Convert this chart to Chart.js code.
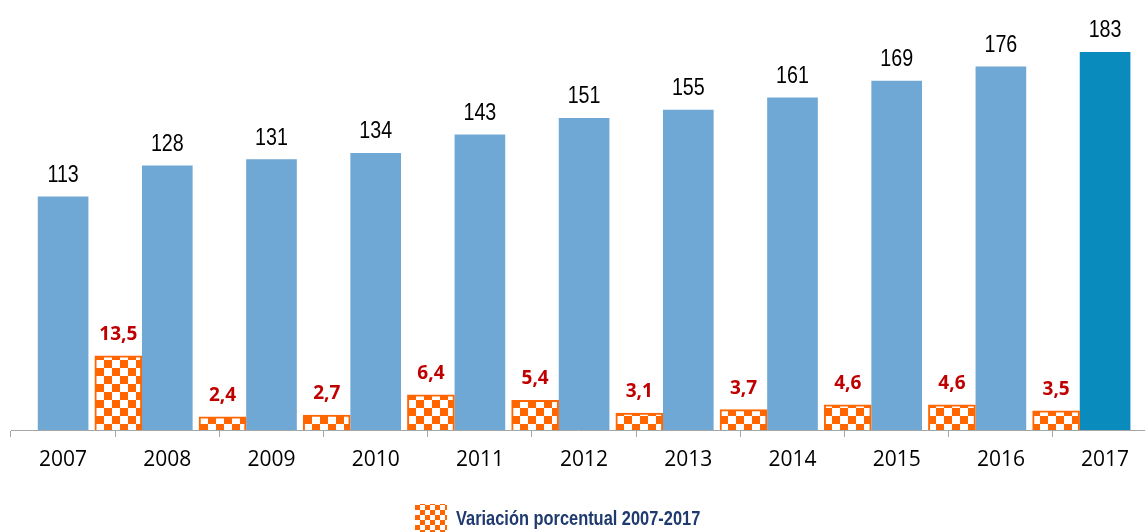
<!DOCTYPE html>
<html lang="es">
<head>
<meta charset="utf-8">
<title>Variación porcentual 2007-2017</title>
<script src="https://cdn.jsdelivr.net/npm/chart.js@4.4.1/dist/chart.umd.min.js"></script>
<style>
  body { margin: 0; background: #fff; }
  #contenedor { width: 1145px; height: 532px; position: relative; }
</style>
</head>
<body>
<div id="contenedor"><canvas id="myChart"></canvas></div>
<script>
const anios = ["2007", "2008", "2009", "2010", "2011", "2012", "2013", "2014", "2015", "2016", "2017"];
const valores = [113, 128, 131, 134, 143, 151, 155, 161, 169, 176, 183];
const variacion = [null, 13.5, 2.4, 2.7, 6.4, 5.4, 3.1, 3.7, 4.6, 4.6, 3.5];
const leyenda = "Variación porcentual 2007-2017";

const azul = "#6fa8d4";
const azulUltimo = "#0a8bbd";
const naranja = "#ff6600";

function crearPatron(tam) {
  const c = document.createElement("canvas");
  c.width = tam * 2;
  c.height = tam * 2;
  const ctx = c.getContext("2d");
  ctx.fillStyle = "#ffffff";
  ctx.fillRect(0, 0, tam * 2, tam * 2);
  ctx.fillStyle = naranja;
  ctx.fillRect(0, 0, tam, tam);
  ctx.fillRect(tam, tam, tam, tam);
  return ctx.createPattern(c, "repeat");
}

const patron = crearPatron(8);
const patronLeyenda = crearPatron(5);

// los puntos naranjos van entre un año y el anterior
const datosAzules = valores.map((v, i) => ({ x: i, y: v }));
const datosNaranjos = [];
variacion.forEach((v, i) => {
  if (v !== null) datosNaranjos.push({ x: i - 0.47, y: v });
});

function formatear(v) {
  return String(v).replace(".", ",");
}

// texto angosto: Liberation Sans comprimida a lo ancho
function textoAngosto(ctx, texto, x, y, escala) {
  ctx.save();
  ctx.translate(x, y);
  ctx.scale(escala, 1);
  ctx.fillText(texto, 0, 0);
  ctx.restore();
}

const etiquetas = {
  id: "etiquetas",
  afterDatasetsDraw(chart) {
    const ctx = chart.ctx;
    ctx.save();
    ctx.textAlign = "center";
    ctx.textBaseline = "alphabetic";
    chart.getDatasetMeta(0).data.forEach((barra, i) => {
      ctx.font = "24px 'Liberation Sans', sans-serif";
      ctx.fillStyle = "#000000";
      textoAngosto(ctx, formatear(valores[i]), barra.x, barra.y - 15, 0.82);
    });
    chart.getDatasetMeta(1).data.forEach((barra, i) => {
      ctx.font = "bold 19px 'Open Sans', sans-serif";
      ctx.fillStyle = "#c00000";
      ctx.fillText(formatear(datosNaranjos[i].y), barra.x, barra.y - 16);
    });

    // leyenda
    ctx.fillStyle = patronLeyenda;
    ctx.fillRect(415, 504, 32, 30);
    ctx.font = "bold 20px 'Liberation Sans', sans-serif";
    ctx.fillStyle = "#1f3a6e";
    ctx.textAlign = "left";
    ctx.textBaseline = "middle";
    textoAngosto(ctx, leyenda, 456, 519, 0.82);
    ctx.restore();
  },
};

const config = {
  type: "bar",
  data: {
    datasets: [
      {
        label: "Total",
        data: datosAzules,
        backgroundColor: valores.map((v, i) => (i === valores.length - 1 ? azulUltimo : azul)),
        barThickness: 50,
        yAxisID: "y",
        order: 2,
      },
      {
        label: leyenda,
        data: datosNaranjos,
        backgroundColor: patron,
        borderColor: naranja,
        borderWidth: 2,
        barThickness: 47,
        yAxisID: "y2",
        order: 1,
      },
    ],
  },
  options: {
    responsive: true,
    maintainAspectRatio: false,
    animation: false,
    grouped: false,
    layout: { padding: { top: 10, left: 11, right: 0, bottom: 0 } },
    plugins: {
      legend: { display: false },
      tooltip: { enabled: false },
    },
    scales: {
      x: {
        type: "linear",
        offset: false,
        min: -0.5,
        max: 10.383,
        afterBuildTicks: (scale) => {
          scale.ticks = anios.map((a, i) => ({ value: i }));
        },
        afterFit: (scale) => {
          scale.height = 102;
        },
        grid: {
          offset: true,
          drawOnChartArea: false,
          drawTicks: true,
          tickLength: 7,
          color: "#a6a6a6",
        },
        border: { display: true, color: "#a6a6a6", width: 1 },
        ticks: {
          padding: 10,
          color: "#000000",
          font: { family: "'Open Sans', sans-serif", size: 21 },
          maxRotation: 0,
          autoSkip: false,
          callback: (v) => anios[v],
        },
      },
      y: {
        display: false,
        min: 0,
        max: 203.5,
      },
      y2: {
        display: false,
        min: 0,
        max: 76.4,
      },
    },
  },
  plugins: [etiquetas],
};

const miGraf = document.querySelector("#myChart");
const myChart = new Chart(miGraf, config);
</script>
</body>
</html>
